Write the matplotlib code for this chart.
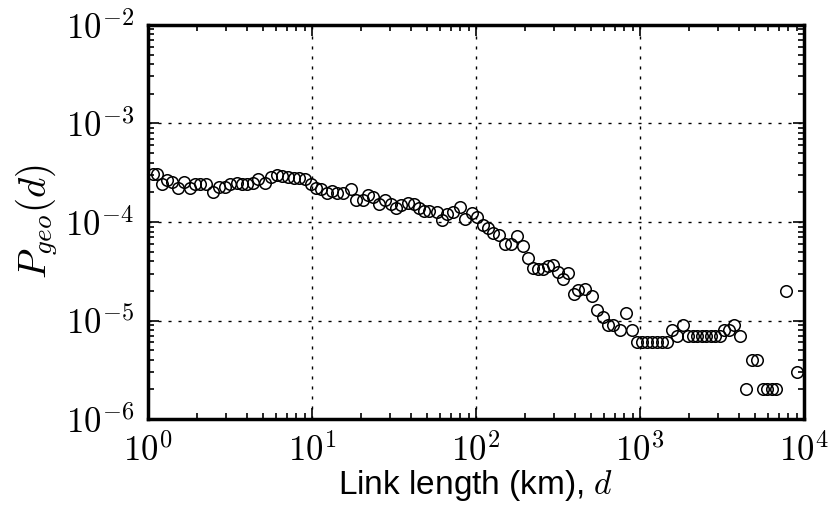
import matplotlib
matplotlib.use("Agg")
import matplotlib.pyplot as plt
from matplotlib.ticker import LogLocator, FuncFormatter
import numpy as np

# link length (km)
dist_km = [1.07, 1.135, 1.22, 1.31, 1.40, 1.52, 1.66, 1.80, 1.93, 2.08, 2.26, 2.49,
           2.71, 2.95, 3.16, 3.49, 3.74, 4.01, 4.37, 4.69, 5.17, 5.62, 6.12, 6.56,
           7.14, 7.77, 8.33, 9.06, 9.86, 10.6, 11.3, 12.3,
           13.2, 14.2, 15.5, 17.3, 18.5, 20.5, 21.9, 23.5, 25.6, 27.9, 30.3, 32.5,
           34.9, 38.5, 41.9, 44.9, 48.2, 51.7, 57.8, 62.1, 66.5, 72.4, 79.8, 85.7,
           94.6, 101,
           110, 118, 127, 138, 150, 163, 178, 194, 207, 223, 239, 256, 275, 295,
           316, 339, 364, 396, 419, 462, 510, 547, 595, 638, 684, 755, 822, 893,
           959, 1028, 1104, 1183, 1270, 1362, 1462, 1567, 1682, 1829, 1963, 2091,
           2228, 2373, 2527, 2692, 2866, 3053, 3251, 3488, 3743, 4072, 4427, 4818,
           5166, 5623, 5947, 6378, 6745, 7762, 9063]

# P_geo(d)
p_geo = [3.10e-4, 3.10e-4, 2.45e-4, 2.69e-4, 2.57e-4, 2.23e-4, 2.57e-4, 2.23e-4,
         2.45e-4, 2.45e-4, 2.45e-4, 2.03e-4, 2.29e-4, 2.29e-4, 2.45e-4, 2.51e-4,
         2.45e-4, 2.45e-4, 2.51e-4, 2.76e-4, 2.51e-4, 2.89e-4, 3.03e-4, 2.96e-4,
         2.89e-4, 2.82e-4, 2.82e-4, 2.76e-4, 2.45e-4, 2.23e-4, 2.18e-4, 1.99e-4,
         2.08e-4, 1.99e-4, 1.99e-4, 2.18e-4, 1.69e-4, 1.69e-4, 1.90e-4, 1.81e-4,
         1.54e-4, 1.69e-4, 1.54e-4, 1.40e-4, 1.50e-4, 1.57e-4, 1.54e-4, 1.40e-4,
         1.30e-4, 1.30e-4, 1.27e-4, 1.05e-4, 1.21e-4, 1.27e-4, 1.43e-4, 1.08e-4,
         1.24e-4, 1.13e-4,
         9.39e-5, 8.75e-5, 7.78e-5, 7.43e-5, 6.01e-5, 6.01e-5, 7.26e-5, 5.74e-5,
         4.34e-5, 3.43e-5, 3.35e-5, 3.35e-5, 3.59e-5, 3.68e-5, 3.12e-5, 2.65e-5,
         3.05e-5, 1.87e-5, 2.05e-5, 2.10e-5, 1.78e-5, 1.28e-5, 1.09e-5, 9e-6,
         9e-6, 8e-6, 1.2e-5, 8e-6,
         6e-6, 6e-6, 6e-6, 6e-6, 6e-6, 6e-6, 6e-6, 8e-6, 7e-6, 9e-6, 7e-6, 7e-6,
         7e-6, 7e-6, 7e-6, 7e-6, 7e-6, 7e-6, 8e-6, 8e-6, 9e-6, 7e-6, 2e-6, 4e-6,
         4e-6, 2e-6, 2e-6, 2e-6, 2e-6, 2e-5, 3e-6]


def pow10(v, pos):
    return r'$10^{%d}$' % int(round(np.log10(v)))


def main():
    plt.rcParams['mathtext.fontset'] = 'cm'
    plt.rcParams['font.family'] = ['Liberation Sans', 'DejaVu Sans']

    fig = plt.figure(figsize=(8.29, 5.08), dpi=100)
    ax = fig.add_axes([0.1785, 0.175, 0.7915, 0.776])

    ax.plot(dist_km, p_geo, linestyle='none', marker='o', markersize=8.3,
            markerfacecolor='none', markeredgecolor='black', markeredgewidth=1.1,
            clip_on=False, zorder=3)

    ax.set_xscale('log')
    ax.set_yscale('log')
    ax.set_xlim(1, 1e4)
    ax.set_ylim(1e-6, 1e-2)

    ax.xaxis.set_minor_locator(LogLocator(base=10, subs=range(2, 10)))
    ax.yaxis.set_minor_locator(LogLocator(base=10, subs=range(2, 10)))
    ax.xaxis.set_major_formatter(FuncFormatter(pow10))
    ax.yaxis.set_major_formatter(FuncFormatter(pow10))

    ax.grid(True, which='major', color='black', linestyle=(0, (2.2, 5)), linewidth=1)

    for sp in ax.spines.values():
        sp.set_linewidth(2.5)

    ax.tick_params(which='both', direction='in', top=True, right=True,
                   labelsize=25, width=1.2)
    ax.tick_params(which='major', length=8, pad=10)
    ax.tick_params(which='minor', length=4)

    ax.set_xlabel('Link length (km), $d$', fontsize=24, labelpad=0)
    ax.set_ylabel('$P_{geo}(d)$', fontsize=28, labelpad=4)

    fig.savefig('out.png', dpi=100)


if __name__ == "__main__":
    main()
